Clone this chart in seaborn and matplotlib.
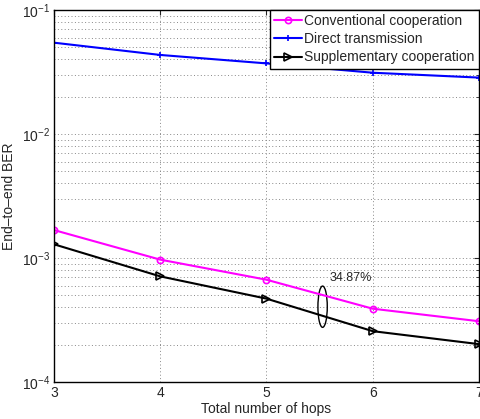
import matplotlib
matplotlib.use("Agg")
import matplotlib.pyplot as plt
import seaborn as sns
import pandas as pd
from matplotlib.patches import Ellipse
from matplotlib.ticker import LogLocator, NullFormatter

hops = [3, 4, 5, 6, 7]
conventional = [0.00168, 0.00097, 0.000668, 0.00039, 0.000309]
direct = [0.0545, 0.0434, 0.0371, 0.0312, 0.0285]
supplementary = [0.00129, 0.000711, 0.00047, 0.000257, 0.000202]
labels = ["Conventional cooperation", "Direct transmission", "Supplementary cooperation"]
annotation = "34.87%"

sns.set_style("white")
plt.rcParams['font.family'] = ['Liberation Sans', 'DejaVu Sans']
plt.rcParams['mathtext.fontset'] = 'custom'
plt.rcParams['mathtext.rm'] = 'Liberation Sans'

fig = plt.figure(figsize=(4.81, 4.19), dpi=100)
ax = fig.add_axes([54/481, 1-382/419, 425/481, 372/419])

series = [
    (conventional, labels[0], "#ff00ff", "o", dict(markerfacecolor="none", markeredgecolor="#ff00ff", markersize=4.5, markeredgewidth=1.2)),
    (direct, labels[1], "#0000ff", "+", dict(markerfacecolor="#0000ff", markeredgecolor="#0000ff", markersize=5, markeredgewidth=1.2)),
    (supplementary, labels[2], "black", ">", dict(markerfacecolor="none", markeredgecolor="black", markersize=5.5, markeredgewidth=1.2)),
]
for vals, lab, col, mk, kw in series:
    df = pd.DataFrame({"hops": hops, "ber": vals})
    sns.lineplot(data=df, x="hops", y="ber", ax=ax, color=col, marker=mk,
                 linewidth=1.5, linestyle="-", dashes=False, label=lab, **kw)

ax.set_yscale("log")
ax.set_xlim(3, 7)
ax.set_ylim(1e-4, 1e-1)
ax.set_xticks(hops)
ax.yaxis.set_major_locator(LogLocator(base=10, numticks=10))
ax.yaxis.set_minor_locator(LogLocator(base=10, subs=range(2, 10), numticks=10))
ax.yaxis.set_minor_formatter(NullFormatter())
ax.grid(True, which="major", axis="both", linestyle=(0, (1, 2.5)), color="#888888", linewidth=0.7)
ax.grid(True, which="minor", axis="y", linestyle=(0, (1, 2.5)), color="#888888", linewidth=0.7)
ax.tick_params(which="both", direction="in", top=True, right=True, labelsize=10, length=3.5, pad=3)
ax.tick_params(which="minor", length=2)
for s in ax.spines.values():
    s.set_color("black")
    s.set_linewidth(1.0)

ax.set_xlabel("Total number of hops", fontsize=10, labelpad=1)
ax.set_ylabel("End\u2013to\u2013end BER", fontsize=10, labelpad=4)

leg = ax.legend(loc="upper right", fontsize=10, frameon=True, fancybox=False,
                borderaxespad=0.0, handlelength=2.0, handletextpad=0.2,
                labelspacing=0.3, borderpad=0.3)
leg.get_frame().set_edgecolor("black")
leg.get_frame().set_linewidth(1.0)
leg.get_frame().set_alpha(1.0)

ax.add_patch(Ellipse((0.632, 0.2024), 0.022, 0.111, transform=ax.transAxes,
                     fill=False, edgecolor="black", linewidth=1.0))
ax.text(0.648, 0.2805, annotation, transform=ax.transAxes, fontsize=9, ha="left", va="center")

fig.savefig("out.png", dpi=100)
